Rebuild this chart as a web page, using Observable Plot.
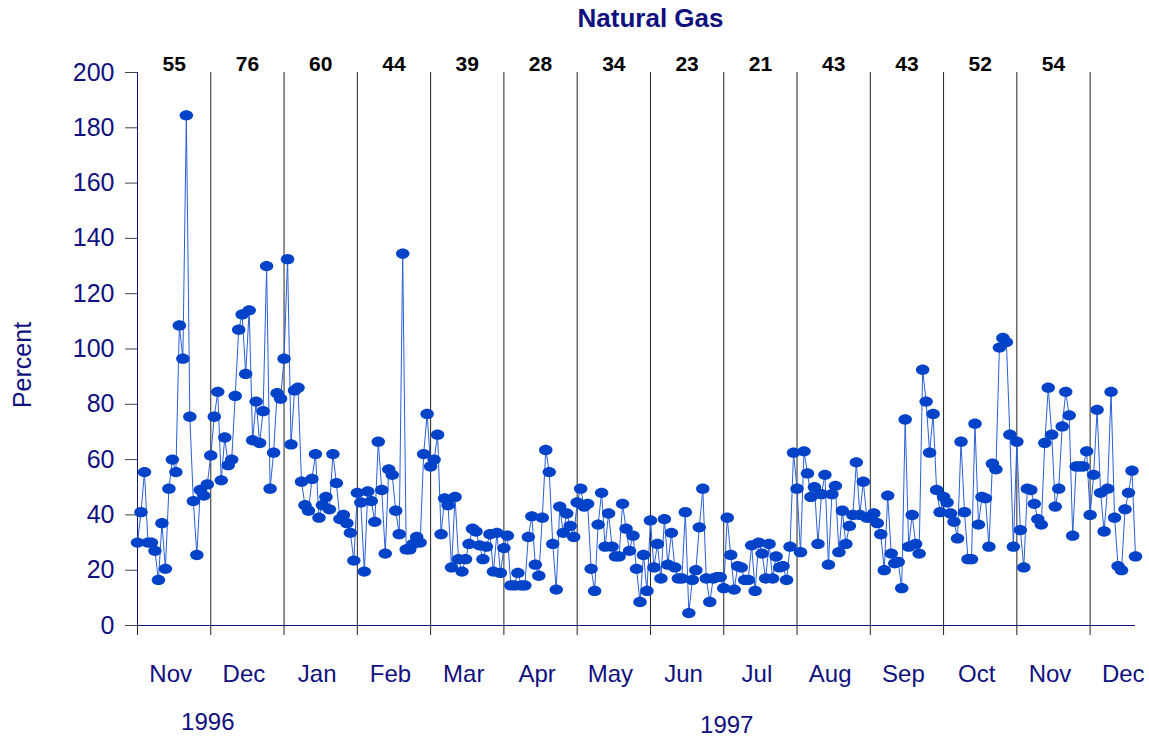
<!DOCTYPE html>
<html>
<head>
<meta charset="utf-8">
<script src="https://cdn.jsdelivr.net/npm/d3@7"></script>
<script src="https://cdn.jsdelivr.net/npm/@observablehq/plot@0.6"></script>
<style>
  html, body { margin: 0; padding: 0; background: #fff; }
  #chart { width: 1149px; height: 740px; }
</style>
</head>
<body>
<div id="chart"></div>
<script>
// ---- Data ----
const title = "Natural Gas";
const yLabel = "Percent";
const monthLabels = ["Nov", "Dec", "Jan", "Feb", "Mar", "Apr", "May", "Jun", "Jul", "Aug", "Sep", "Oct", "Nov", "Dec"];
const monthYears  = [1996, 1996, 1997, 1997, 1997, 1997, 1997, 1997, 1997, 1997, 1997, 1997, 1997, 1997];
const monthTopLabels = [55, 76, 60, 44, 39, 28, 34, 23, 21, 43, 43, 52, 54];
const yTicks = [0, 20, 40, 60, 80, 100, 120, 140, 160, 180, 200];

const nov96 = [30, 41, 55.5, 30, 30, 27, 16.5, 37, 20.5, 49.5, 60, 55.5, 108.5, 96.5, 184.5, 75.5, 45, 25.5, 49, 47, 51];
const dec96 = [61.5, 75.5, 84.5, 52.5, 68, 58, 60, 83, 107, 112.5, 91, 114, 67, 81, 66, 77.5, 130, 49.5, 62.5, 84, 82];
const jan97 = [96.5, 132.5, 65.5, 85, 86, 52, 43.5, 41.5, 53, 62, 39, 43.5, 46.5, 42, 62, 51.5, 38.5, 40, 37, 33.5, 23.5];
const feb97 = [48, 44.5, 19.5, 48.5, 45, 37.5, 66.5, 49, 26, 56.5, 54.5, 41.5, 33, 134.5, 27.5, 27.5, 29.5, 32, 30, 62, 76.5];
const mar97 = [57.5, 60, 69, 33, 46, 43.5, 21, 46.5, 24, 19.5, 24, 29.5, 35, 34, 29, 24, 28.5, 33, 19.5, 33.5, 19];
const apr97 = [28, 32.5, 14.5, 14.5, 19, 14.5, 14.5, 32, 39.5, 22, 18, 39, 63.5, 55.5, 29.5, 13, 43, 33.5, 40.5, 36, 32];
const may97 = [44.5, 49.5, 43, 44, 20.5, 12.5, 36.5, 48, 28.5, 40.5, 28.5, 25, 25, 44, 35, 27, 32.5, 20.5, 8.5, 25.5, 12.5];
const jun97 = [38, 21, 29.5, 17, 38.5, 22, 33.5, 21, 17, 17, 41, 4.5, 16.5, 20, 35.5, 49.5, 17, 8.5, 17, 17.5, 17.5];
const jul97 = [13.5, 39, 25.5, 13, 21.5, 21, 16.5, 16.5, 29, 12.5, 30, 26, 17, 29.5, 17, 25, 21, 21.5, 16.5, 28.5, 62.5];
const aug97 = [49.5, 26.5, 63, 55, 46.5, 50, 29.5, 47.5, 54.5, 22, 47.5, 50.5, 26.5, 41.5, 29.5, 36, 40, 59, 40, 52, 39];
const sep97 = [39, 40.5, 37, 33, 20, 47, 26, 22.5, 23, 13.5, 74.5, 28.5, 40, 29.5, 26, 92.5, 81, 62.5, 76.5, 49, 41];
const oct97 = [46.5, 44.5, 40.5, 37.5, 31.5, 66.5, 41, 24, 24, 73, 36.5, 46.5, 46, 28.5, 58.5, 56.5, 100.5, 104, 102.5, 69, 28.5];
const nov97 = [66.5, 34.5, 21, 49.5, 49, 44, 38.5, 36.5, 66, 86, 69, 43, 49.5, 72, 84.5, 76, 32.5, 57.5, 57.5, 57.5, 63];
const dec97 = [40, 54.5, 78, 48, 34, 49.5, 84.5, 39, 21.5, 20, 42, 48, 56, 25];

// ---- Build tables ----
const months = [nov96, dec96, jan97, feb97, mar97, apr97, may97, jun97, jul97, aug97, sep97, oct97, nov97, dec97];
const perMonth = 21; // observations in a full month (equal-width months)
const rows = [];
const monthStarts = [];
months.forEach((arr) => {
  monthStarts.push(rows.length);
  arr.forEach(v => rows.push({i: rows.length, v}));
});
const lastIndex = rows.length - 1;

const monthRows = monthLabels.map((label, m) => ({label, x: monthStarts[m] + 9.5}));
const topRows = monthTopLabels.map((label, m) => ({label, x: monthStarts[m] + perMonth / 2}));
const yearRows = Array.from(d3.group(monthLabels.map((_, m) => ({m, y: monthYears[m]})), d => d.y), ([year, ms]) => {
  const first = monthStarts[ms[0].m];
  const last = monthStarts[ms[ms.length - 1].m] + perMonth;
  return {label: String(year), x: (first + last) / 2, year};
});

const navy = "#10107f";

// ellipse-shaped point symbol (slightly wider than tall)
const ellipse = {
  draw(ctx, size) {
    const r = Math.sqrt(size);
    const rx = r * 1.15, ry = r * 0.88, k = 0.5523;
    ctx.moveTo(rx, 0);
    ctx.bezierCurveTo(rx, ry * k, rx * k, ry, 0, ry);
    ctx.bezierCurveTo(-rx * k, ry, -rx, ry * k, -rx, 0);
    ctx.bezierCurveTo(-rx, -ry * k, -rx * k, -ry, 0, -ry);
    ctx.bezierCurveTo(rx * k, -ry, rx, -ry * k, rx, 0);
    ctx.closePath();
  }
};

const chart = Plot.plot({
  width: 1149,
  height: 740,
  marginLeft: 137,
  marginRight: 14,
  marginTop: 72,
  marginBottom: 115,
  style: {fontFamily: "'Liberation Sans', Arial, Helvetica, sans-serif", background: "#fff", overflow: "visible"},
  x: {domain: [0, lastIndex], axis: null},
  y: {domain: [0, 200], axis: null},
  marks: [
    // month separators (extend below the axis as ticks)
    Plot.ruleX(monthStarts, {x: d => d, stroke: "#222", strokeWidth: 1, insetBottom: -10}),
    // y axis
    Plot.axisY({ticks: yTicks, tickSize: 12, tickPadding: 11, fontSize: 25, fill: navy, stroke: "#444", label: null}),
    Plot.ruleX([0], {stroke: navy, strokeWidth: 1}),
    Plot.ruleY([0], {x1: 0, x2: lastIndex, stroke: navy, strokeWidth: 1}),
    // series
    Plot.line(rows, {x: "i", y: "v", stroke: "#2a5fd8", strokeWidth: 1}),
    Plot.dot(rows, {x: "i", y: "v", r: 3.3, symbol: ellipse, fill: "#0042c8", stroke: "none"}),
    // top monthly numbers
    Plot.text(topRows, {x: "x", y: () => 200, text: "label", dy: -8, fontSize: 21, fontWeight: "bold", fill: "#000"}),
    // month labels
    Plot.text(monthRows, {x: "x", y: () => 0, text: "label", dy: 49, fontSize: 24, fill: navy}),
    // year labels
    Plot.text(yearRows.filter(d => d.year === 1996), {x: "x", y: () => 0, text: "label", dx: -3, dy: 97, fontSize: 24, fill: navy}),
    Plot.text(yearRows.filter(d => d.year === 1997), {x: "x", y: () => 0, text: "label", dx: 3, dy: 100, fontSize: 24, fill: navy}),
    // y label
    Plot.text([yLabel], {frameAnchor: "left", textAnchor: "middle", lineAnchor: "middle", dx: -115, dy: 16, rotate: -90, fontSize: 25, fill: navy}),
    // title
    Plot.text([title], {frameAnchor: "top", textAnchor: "middle", lineAnchor: "middle", dx: 14, dy: -54, fontSize: 26, fontWeight: "bold", fill: navy})
  ]
});
document.getElementById("chart").appendChild(chart);
</script>
</body>
</html>
